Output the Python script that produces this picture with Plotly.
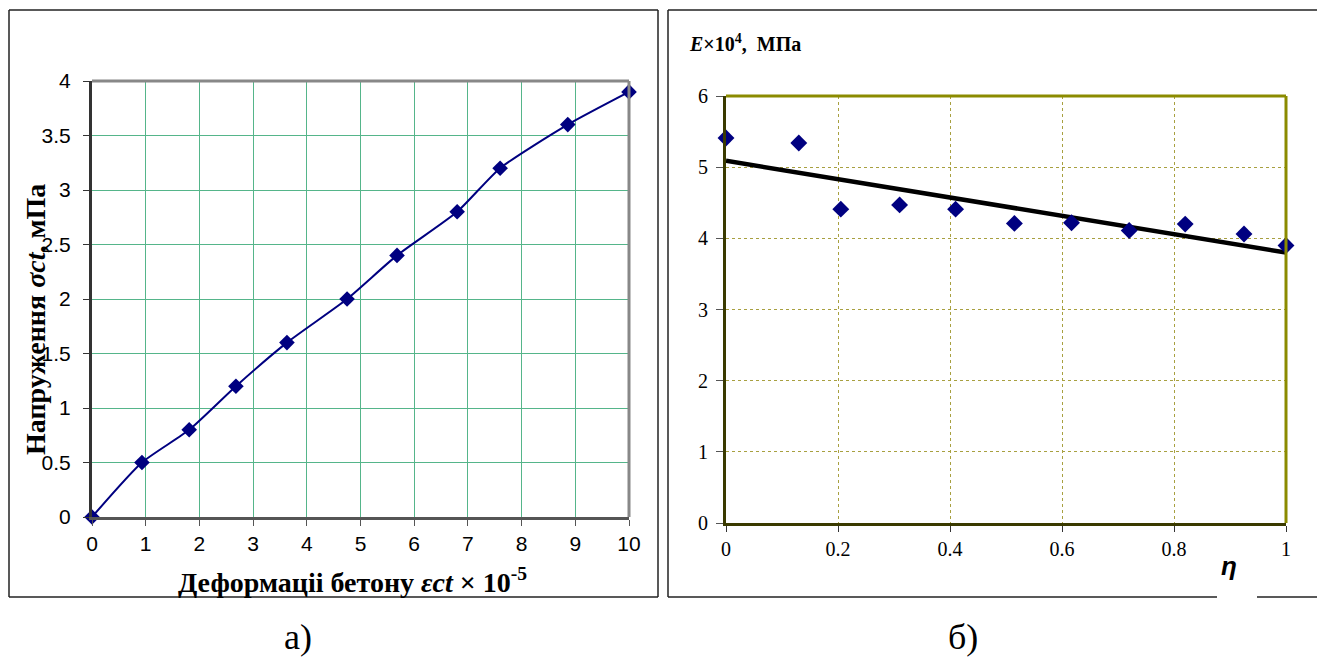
import plotly.graph_objects as go

# Left chart data
strain = [0, 0.93, 1.81, 2.68, 3.63, 4.75, 5.68, 6.8, 7.6, 8.86, 10]
stress = [0, 0.5, 0.8, 1.2, 1.6, 2.0, 2.4, 2.8, 3.2, 3.6, 3.9]
left_xticks = list(range(0, 11))
left_yticks = [0, 0.5, 1, 1.5, 2, 2.5, 3, 3.5, 4]

# Right chart data
eta = [0, 0.13, 0.205, 0.31, 0.41, 0.515, 0.617, 0.72, 0.82, 0.925, 1.0]
modulus = [5.41, 5.34, 4.41, 4.47, 4.41, 4.21, 4.22, 4.11, 4.20, 4.06, 3.90]
trend_x = [0, 1]
trend_y = [5.09, 3.80]
right_xticks = [0, 0.2, 0.4, 0.6, 0.8, 1]
right_yticks = [0, 1, 2, 3, 4, 5, 6]

# page body has an 8px margin: the figure is drawn from (8, 8)
OFF = 8
W, H = 1325 - OFF, 662 - OFF
def px(x): return (x - OFF) / W
def py(y): return 1 - (y - OFF) / H

navy = "#000080"
fig = go.Figure()

fig.add_trace(go.Scatter(x=strain, y=stress, mode="lines+markers",
                         line=dict(color=navy, width=2, shape="spline", smoothing=0.6),
                         marker=dict(symbol="diamond", size=12, color=navy),
                         xaxis="x", yaxis="y", showlegend=False, cliponaxis=False))
fig.add_trace(go.Scatter(x=trend_x, y=trend_y, mode="lines",
                         line=dict(color="black", width=4.5),
                         xaxis="x2", yaxis="y2", showlegend=False, cliponaxis=False))
fig.add_trace(go.Scatter(x=eta, y=modulus, mode="markers",
                         marker=dict(symbol="diamond", size=13, color=navy),
                         xaxis="x2", yaxis="y2", showlegend=False, cliponaxis=False))

sans = "Liberation Sans, Arial, sans-serif"
serif = "Liberation Serif, Times New Roman, serif"

fig.update_layout(
    template="none",
    width=W, height=H, autosize=False,
    margin=dict(l=0, r=0, t=0, b=0, pad=0),
    paper_bgcolor="white", plot_bgcolor="white",
    xaxis=dict(domain=[px(92), px(629)], range=[0, 10], tickvals=left_xticks,
               showgrid=True, gridcolor="#55b58a", gridwidth=1, automargin=False,
               showline=True, linecolor="#555555", linewidth=3, mirror=False,
               ticks="outside", ticklen=6, tickcolor="#555555", ticklabelstandoff=0,
               tickfont=dict(family=sans, size=21, color="black"), zeroline=False,
               anchor="y"),
    yaxis=dict(domain=[py(517), py(81)], range=[0, 4], tickvals=left_yticks,
               showgrid=True, gridcolor="#55b58a", gridwidth=1, automargin=False,
               showline=True, linecolor="#333333", linewidth=3,
               ticks="outside", ticklen=6, tickcolor="#333333", ticklabelstandoff=8,
               tickfont=dict(family=sans, size=21, color="black"), zeroline=False,
               anchor="x"),
    xaxis2=dict(domain=[px(726), px(1286)], range=[0, 1], tickvals=right_xticks,
                ticktext=["0", "0.2", "0.4", "0.6", "0.8", "1"],
                showgrid=True, gridcolor="#a8a040", gridwidth=1, griddash="dot",
                automargin=False,
                showline=True, linecolor="#3a3a00", linewidth=3,
                ticks="outside", ticklen=6, tickcolor="#333333", ticklabelstandoff=0,
                tickfont=dict(family=serif, size=20, color="black"), zeroline=False,
                anchor="y2"),
    yaxis2=dict(domain=[py(523), py(96)], range=[0, 6], tickvals=right_yticks,
                showgrid=True, gridcolor="#a8a040", gridwidth=1, griddash="dot",
                automargin=False,
                showline=True, linecolor="#3a3a00", linewidth=3,
                ticks="outside", ticklen=7, tickcolor="#555555", ticklabelstandoff=4,
                tickfont=dict(family=serif, size=20, color="black"), zeroline=False,
                anchor="x2"),
)

def seg(x0, y0, x1, y1, color, width):
    return dict(type="line", xref="paper", yref="paper",
                x0=px(x0), y0=py(y0), x1=px(x1), y1=py(y1),
                line=dict(color=color, width=width))

frame = "#222222"
shapes = [
    # left outer frame
    seg(9, 10, 658, 10, frame, 1.5), seg(9, 597, 658, 597, frame, 1.5),
    seg(9, 10, 9, 597, frame, 1.5), seg(658, 10, 658, 597, frame, 1.5),
    # right outer frame
    seg(668, 10, 1319, 10, frame, 1.5), seg(668, 597, 1319, 597, frame, 1.5),
    seg(668, 10, 668, 597, frame, 1.5), seg(1319, 10, 1319, 597, frame, 1.5),
    # top/right plot borders
    seg(92, 81, 629, 81, "#888888", 3), seg(629, 81, 629, 517, "#888888", 3),
    seg(726, 96, 1286, 96, "#8b8b00", 3), seg(1286, 96, 1286, 523, "#8b8b00", 3),
    # white notch on right frame bottom
    dict(type="rect", xref="paper", yref="paper", x0=px(1217), x1=px(1257), y0=py(600), y1=py(594),
         line=dict(width=0), fillcolor="white"),
]
fig.update_layout(shapes=shapes)

ann = [
    dict(text="<b>Напруження <i>σct</i>, мПа</b>", x=px(35), y=py(320), textangle=-90,
         font=dict(family=serif, size=28, color="black")),
    dict(text="<b>Деформаціі бетону <i>εct</i> × 10<sup>-5</sup></b>", x=px(352), y=py(580),
         font=dict(family=serif, size=28, color="black")),
    dict(text="<b><i>E</i>×10<sup>4</sup>,  МПа</b>", x=px(687), y=py(43), xanchor="left",
         font=dict(family=serif, size=20, color="black")),
    dict(text="<b><i>η</i></b>", x=px(1229), y=py(566),
         font=dict(family=sans, size=26, color="black")),
    dict(text="а)", x=px(298), y=py(637), font=dict(family=serif, size=36, color="black")),
    dict(text="б)", x=px(963), y=py(637), font=dict(family=serif, size=36, color="black")),
]
for a in ann:
    a.setdefault("xanchor", "center")
    a.update(xref="paper", yref="paper", showarrow=False, yanchor="middle")
fig.update_layout(annotations=ann)

fig.write_html("out.html")
